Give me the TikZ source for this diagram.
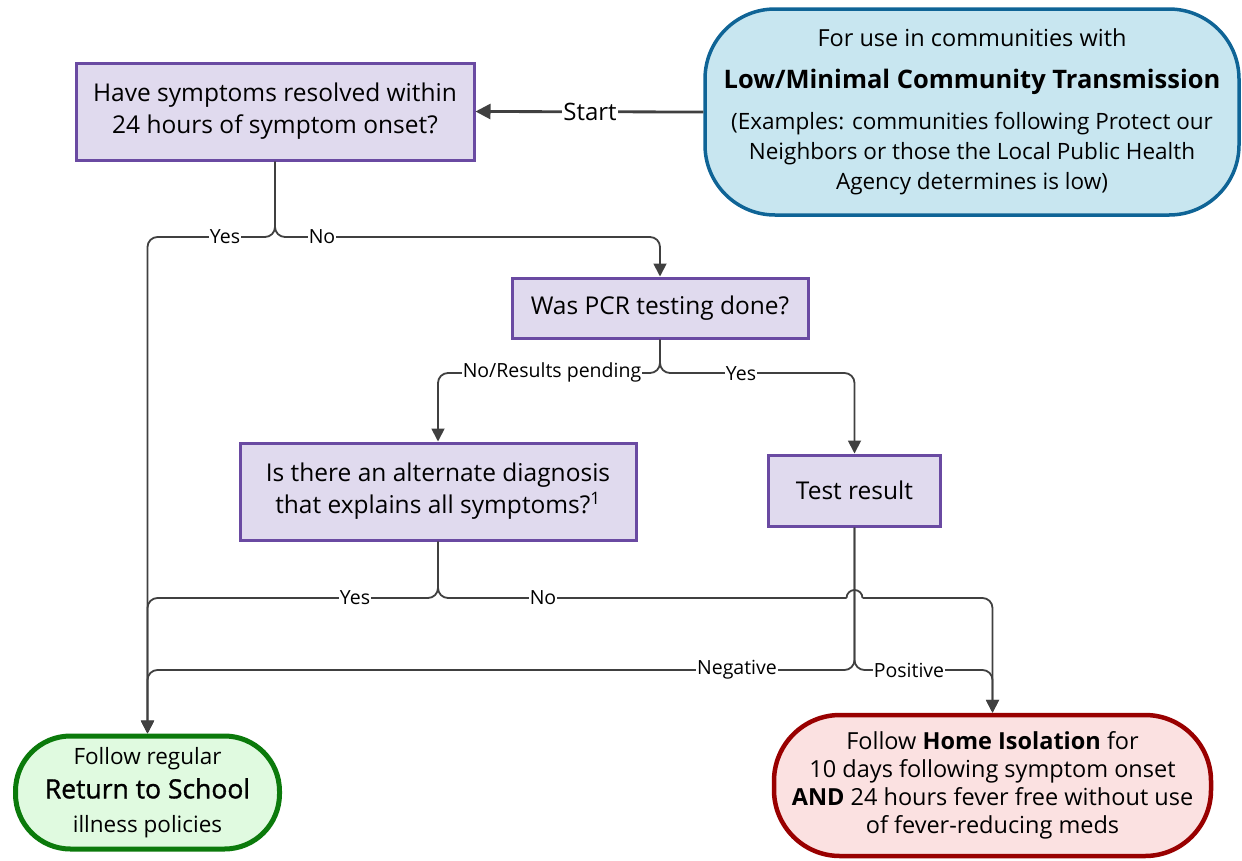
\documentclass[tikz,border=0pt]{standalone}
\usepackage{fontspec}
\setmainfont{Open Sans}
\newfontfamily\semibold{Open Sans}[FakeBold=1.2]
\usetikzlibrary{arrows.meta}
\definecolor{boxfill}{HTML}{E0DAEE}
\definecolor{boxline}{HTML}{6A4AA2}
\definecolor{bluefill}{HTML}{C8E6F0}
\definecolor{blueline}{HTML}{0F6496}
\definecolor{greenfill}{HTML}{E0FAE0}
\definecolor{greenline}{HTML}{0B7A0B}
\definecolor{redfill}{HTML}{FBE1E1}
\definecolor{redline}{HTML}{990000}
\definecolor{conncol}{HTML}{404040}
\tikzset{
  qbox/.style={draw=boxline, fill=boxfill, line width=3pt, align=center, inner sep=0pt,
    font=\fontsize{24.5}{32}\selectfont},
  conn/.style={draw=conncol, line width=1.8pt, rounded corners=10pt,
    -{Triangle[length=13pt,width=13pt]}},
  lbl/.style={fill=white, inner sep=1pt, font=\fontsize{19.5}{22}\selectfont, text=black},
}
\begin{document}
\begin{tikzpicture}[x=1pt,y=-1pt]
\useasboundingbox (0,0) rectangle (1242,860);
% nodes
\node[qbox, minimum width=398pt, minimum height=97pt] (b1) at (275,111.5)
  {Have symptoms resolved within\\24 hours of symptom onset?};
\node[draw=blueline, fill=bluefill, line width=3.5pt, rounded corners=70pt,
  minimum width=534pt, minimum height=206pt, align=center, inner sep=0pt,
  font=\fontsize{22.5}{30}\selectfont] (start) at (972,112)
  {{\fontsize{23.5}{30}\selectfont For use in communities with}\\[12pt]
   {\fontsize{25.5}{30}\selectfont\bfseries Low/Minimal Community Transmission}\\[11pt]
   (Examples: communities following Protect our\\
   Neighbors or those the Local Public Health\\
   Agency determines is low)};
\node[qbox, minimum width=296pt, minimum height=60pt] (pcr) at (660,308)
  {Was PCR testing done?};
\node[qbox, minimum width=396pt, minimum height=97pt] (alt) at (438,491.5)
  {Is there an alternate diagnosis\\that explains all symptoms?\textsuperscript{1}};
\node[qbox, minimum width=172pt, minimum height=71pt] (test) at (854.5,490.5)
  {Test result};
\node[draw=greenline, fill=greenfill, line width=5pt, rounded corners=55pt,
  minimum width=264pt, minimum height=113pt, align=center, inner sep=0pt,
  font=\fontsize{22.5}{34}\selectfont] (ret) at (147.5,792.5)
  {Follow regular\\
   {\fontsize{26.5}{34}\selectfont\semibold Return to School}\\
   illness policies};
\node[draw=redline, fill=redfill, line width=4.5pt, rounded corners=66pt,
  minimum width=437pt, minimum height=141pt, align=center, inner sep=0pt,
  font=\fontsize{23.5}{28}\selectfont] (home) at (992.5,785.5)
  {Follow \textbf{Home Isolation} for\\
   10 days following symptom onset\\
   \textbf{AND} 24 hours fever free without use\\
   of fever-reducing meds};
% coordinates
\coordinate (j1) at (275,237);
\coordinate (j2) at (660,373);
\coordinate (j3) at (438,598);
\coordinate (j4) at (854.5,670);
\coordinate (hopL) at (846.5,598);
\coordinate (hopR) at (862.5,598);
% connectors
\draw[conn, line width=2.8pt, -{Triangle[length=15pt,width=15pt]}] (start.west) -- (b1.east);
\draw[conn] (b1.south) -- (j1) -| (ret.north);
\draw[conn] (b1.south) -- (j1) -| (pcr.north);
\draw[conn] (pcr.south) -- (j2) -| (alt.north);
\draw[conn] (pcr.south) -- (j2) -| (test.north);
\draw[conn] (alt.south) -- (j3) -| (ret.north);
\draw[conn] (test.south) -- (j4) -| (ret.north);
\draw[conn] (test.south) -- (j4) -| (home.north);
\draw[conn, -] (alt.south) -- (j3) -- (hopL);
\draw[draw=conncol, line width=1.8pt] (hopL) arc[start angle=180, end angle=0, radius=8pt];
\draw[conn] (hopR) -- (hopR -| home.north) -- (home.north);
% labels
\node[lbl, font=\fontsize{24}{26}\selectfont] (lstart) at (590,112) {Start};
\node[lbl] (l1) at (225,237) {Yes};
\node[lbl] (l2) at (322,237) {No};
\node[lbl] (l3) at (552,372) {No/Results pending};
\node[lbl] (l4) at (741,374) {Yes};
\node[lbl] (l5) at (355,598) {Yes};
\node[lbl] (l6) at (543,598) {No};
\node[lbl] (l7) at (737,670) {Negative};
\node[lbl] (l8) at (909,670) {Positive};
\end{tikzpicture}
\end{document}
